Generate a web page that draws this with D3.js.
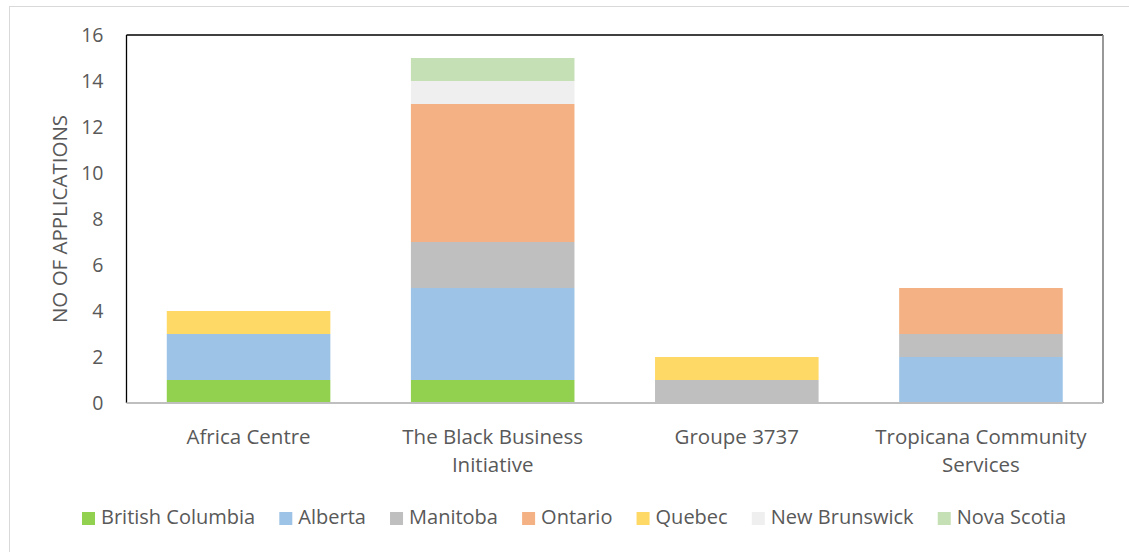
<!DOCTYPE html>
<html>
<head>
<meta charset="utf-8">
<script src="https://cdn.jsdelivr.net/npm/d3@7.9.0/dist/d3.min.js"></script>
<style>
  html, body { margin: 0; padding: 0; background: #fff; }
  svg { display: block; font-family: "Open Sans", "Noto Sans", sans-serif; }
</style>
</head>
<body>
<svg id="chart" width="1129" height="552"></svg>
<script>
// data
var categories = [
    ['Africa Centre'],
    ['The Black Business', 'Initiative'],
    ['Groupe 3737'],
    ['Tropicana Community', 'Services']
]
var provinces = ['British Columbia', 'Alberta', 'Manitoba', 'Ontario', 'Quebec', 'New Brunswick', 'Nova Scotia']
var colors = ['#92d050', '#9dc3e6', '#bfbfbf', '#f4b183', '#ffd966', '#efefef', '#c5e0b4']

var britishColumbia = [1, 1, 0, 0]
var alberta = [2, 4, 0, 2]
var manitoba = [0, 2, 1, 1]
var ontario = [0, 6, 0, 2]
var quebec = [1, 0, 1, 0]
var newBrunswick = [0, 1, 0, 0]
var novaScotia = [0, 1, 0, 0]
var yTicks = [0, 2, 4, 6, 8, 10, 12, 14, 16]

var series = [britishColumbia, alberta, manitoba, ontario, quebec, newBrunswick, novaScotia]

var rows = categories.map(function (c, i) {
    var r = { key: c.join(' ') }
    provinces.forEach(function (p, j) { r[p] = series[j][i] })
    return r
})

var svg = d3.select('#chart')
var margin = { left: 126.5, right: 1103, top: 35, bottom: 403 }
var textColor = '#595959'

// outer chart border
svg.append('rect')
    .attr('x', 9.5).attr('y', 6.5)
    .attr('width', 1140).attr('height', 560)
    .attr('fill', 'none').attr('stroke', '#d9d9d9').attr('stroke-width', 1)

var x = d3.scaleBand()
    .domain(rows.map(function (d) { return d.key }))
    .range([margin.left, margin.right])
    .paddingInner(0.33)
    .paddingOuter(0.165)

var y = d3.scaleLinear().domain([0, 16]).range([margin.bottom, margin.top])

var stacked = d3.stack().keys(provinces)(rows)

svg.append('g')
    .selectAll('g')
    .data(stacked)
    .enter()
    .append('g')
    .attr('fill', function (d, i) { return colors[i] })
    .selectAll('rect')
    .data(function (d) { return d })
    .enter()
    .append('rect')
    .attr('x', function (d) { return x(d.data.key) })
    .attr('width', x.bandwidth())
    .attr('y', function (d) { return y(d[1]) })
    .attr('height', function (d) { return y(d[0]) - y(d[1]) })

// plot frame: dark left/top, grey right, grey baseline
svg.append('line').attr('x1', margin.left).attr('x2', margin.left).attr('y1', margin.top).attr('y2', margin.bottom)
    .attr('stroke', '#000').attr('stroke-width', 1.3)
svg.append('line').attr('x1', margin.left).attr('x2', margin.right).attr('y1', margin.top).attr('y2', margin.top)
    .attr('stroke', '#000').attr('stroke-width', 1.3)
svg.append('line').attr('x1', margin.right).attr('x2', margin.right).attr('y1', margin.top).attr('y2', margin.bottom)
    .attr('stroke', '#7f7f7f').attr('stroke-width', 1.6)
svg.append('line').attr('x1', margin.left).attr('x2', margin.right).attr('y1', margin.bottom).attr('y2', margin.bottom)
    .attr('stroke', '#bfbfbf').attr('stroke-width', 2)

// y axis
var yAxis = svg.append('g')
    .attr('transform', 'translate(' + (margin.left - 23) + ',0)')
    .call(d3.axisLeft(y).tickValues(yTicks).tickSize(0).tickPadding(0))
yAxis.select('.domain').remove()
yAxis.selectAll('text')
    .attr('fill', textColor)
    .style('font-size', '19.5px')
    .attr('font-family', '"Open Sans", sans-serif')

svg.append('text')
    .attr('transform', 'translate(67,' + ((margin.top + margin.bottom) / 2) + ') rotate(-90)')
    .attr('text-anchor', 'middle')
    .attr('fill', textColor)
    .style('font-size', '20.5px')
    .text('NO OF APPLICATIONS')

// category labels (wrapped as in the original)
var xl = svg.append('g')
xl.selectAll('text')
    .data(rows)
    .enter()
    .append('text')
    .attr('text-anchor', 'middle')
    .attr('fill', textColor)
    .style('font-size', '20.5px')
    .each(function (d, i) {
        var t = d3.select(this)
        categories[i].forEach(function (line, k) {
            t.append('tspan')
                .attr('x', x(d.key) + x.bandwidth() / 2)
                .attr('y', 444 + k * 28)
                .text(line)
        })
    })

// legend, laid out by measured text widths and spread over the original span
var legendLeft = 82, legendRight = 1066
var legend = svg.append('g')
var items = legend.selectAll('g')
    .data(provinces)
    .enter()
    .append('g')
items.append('rect')
    .attr('width', 13).attr('height', 13)
    .attr('y', -12)
    .attr('fill', function (d, i) { return colors[i] })
items.append('text')
    .attr('x', 19)
    .attr('fill', textColor)
    .style('font-size', '20px')
    .text(function (d) { return d })

var widths = []
items.each(function () {
    widths.push(19 + d3.select(this).select('text').node().getComputedTextLength())
})
var gap = Math.max(8, (legendRight - legendLeft - d3.sum(widths)) / (widths.length - 1))
var cx = 0
items.each(function (d, i) {
    d3.select(this).attr('transform', 'translate(' + cx + ',0)')
    cx += widths[i] + gap
})
var total = cx - gap
legend.attr('transform', 'translate(' + ((legendLeft + legendRight) / 2 - total / 2) + ',524)')
</script>
</body>
</html>
